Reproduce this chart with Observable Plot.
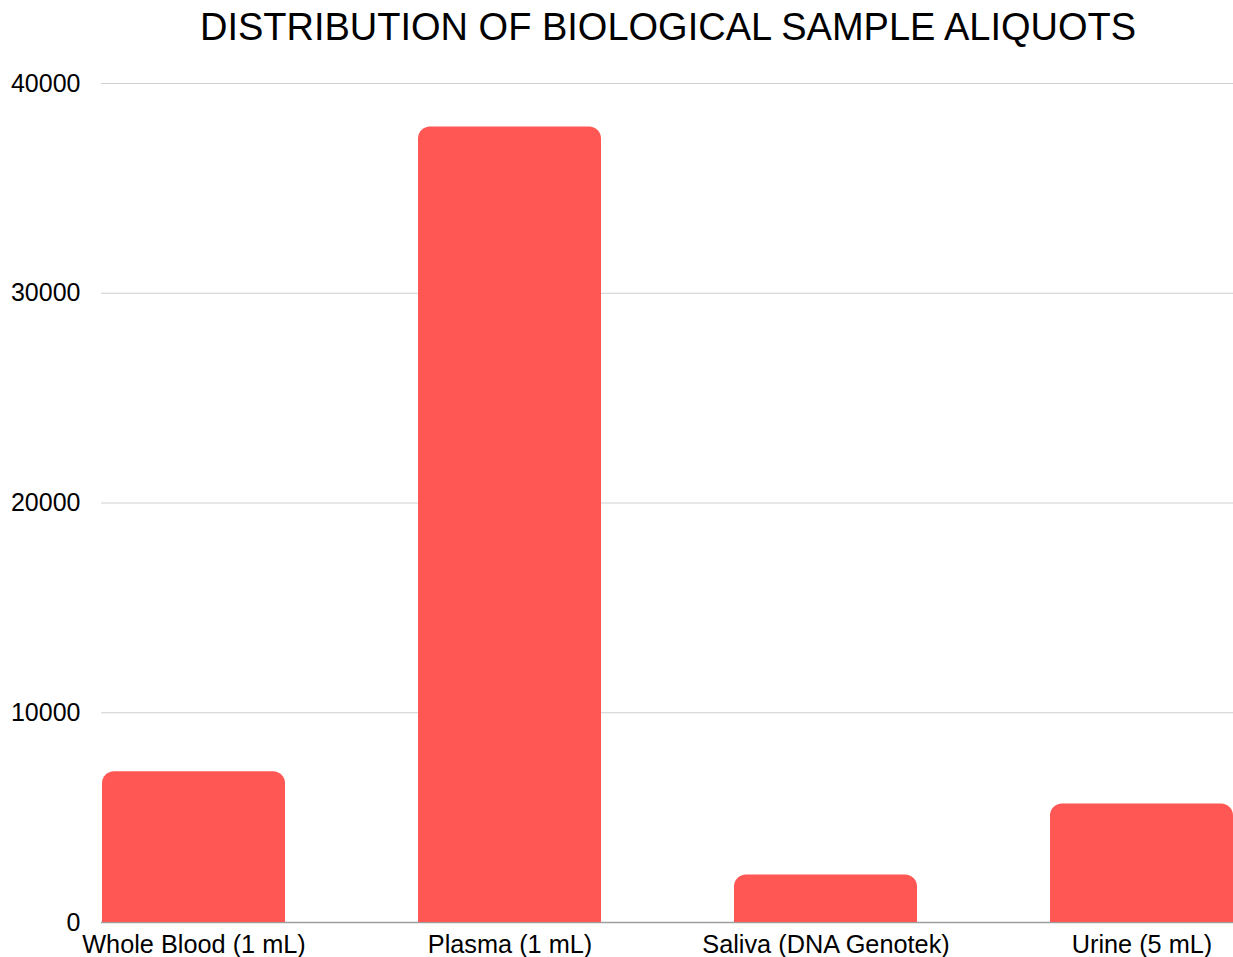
<!DOCTYPE html>
<html>
<head>
<meta charset="utf-8">
<script src="https://cdn.jsdelivr.net/npm/d3@7"></script>
<script src="https://cdn.jsdelivr.net/npm/@observablehq/plot@0.6"></script>
<style>
  html, body { margin: 0; padding: 0; background: #fff; }
  body { width: 1233px; height: 957px; overflow: hidden; font-family: "Liberation Sans", Arial, sans-serif; }
  #title { box-sizing: border-box; height: 46px; padding-top: 8px; padding-left: 103px; width: 1233px; text-align: center; font-size: 38px; line-height: 1; color: #000; white-space: nowrap; }
  #chart svg { display: block; overflow: visible; }
</style>
</head>
<body>
<div id="title">DISTRIBUTION OF BIOLOGICAL SAMPLE ALIQUOTS</div>
<div id="chart"></div>
<script>
const categories = ["Whole Blood (1 mL)", "Plasma (1 mL)", "Saliva (DNA Genotek)", "Urine (5 mL)"];
const aliquots = [7190, 37930, 2260, 5650];
const yTicks = [0, 10000, 20000, 30000, 40000];
const barColor = "#ff5754";

const data = categories.map((c, i) => ({category: c, value: aliquots[i]}));

const chart = Plot.plot({
  width: 1233,
  height: 911,
  marginLeft: 101,
  marginRight: -1,
  marginTop: 37,
  marginBottom: 35,
  style: {fontFamily: "'Liberation Sans', Arial, sans-serif", fontSize: "25px", color: "#000", background: "#fff"},
  x: {domain: categories, paddingInner: 0.42, paddingOuter: 0, label: null, tickSize: 0, tickPadding: 13},
  y: {domain: [0, 40000], ticks: yTicks, tickFormat: d => String(d), label: null, tickSize: 0, tickPadding: 21},
  marks: [
    Plot.ruleY(yTicks.filter(t => t > 0), {stroke: "#d0d0d0", strokeWidth: 1}),
    Plot.ruleY([0], {stroke: "#9e9e9e", strokeWidth: 1.3}),
    Plot.barY(data, {x: "category", y: "value", fill: barColor, ry1: 12, rx1y1: 12, rx2y1: 12}),
    Plot.axisX({tickSize: 0, tickPadding: 13, fontSize: 25.3}),
    Plot.axisY({ticks: yTicks, tickFormat: d => String(d), tickSize: 0, tickPadding: 21, fontSize: 25})
  ]
});
document.getElementById("chart").appendChild(chart);
</script>
</body>
</html>
